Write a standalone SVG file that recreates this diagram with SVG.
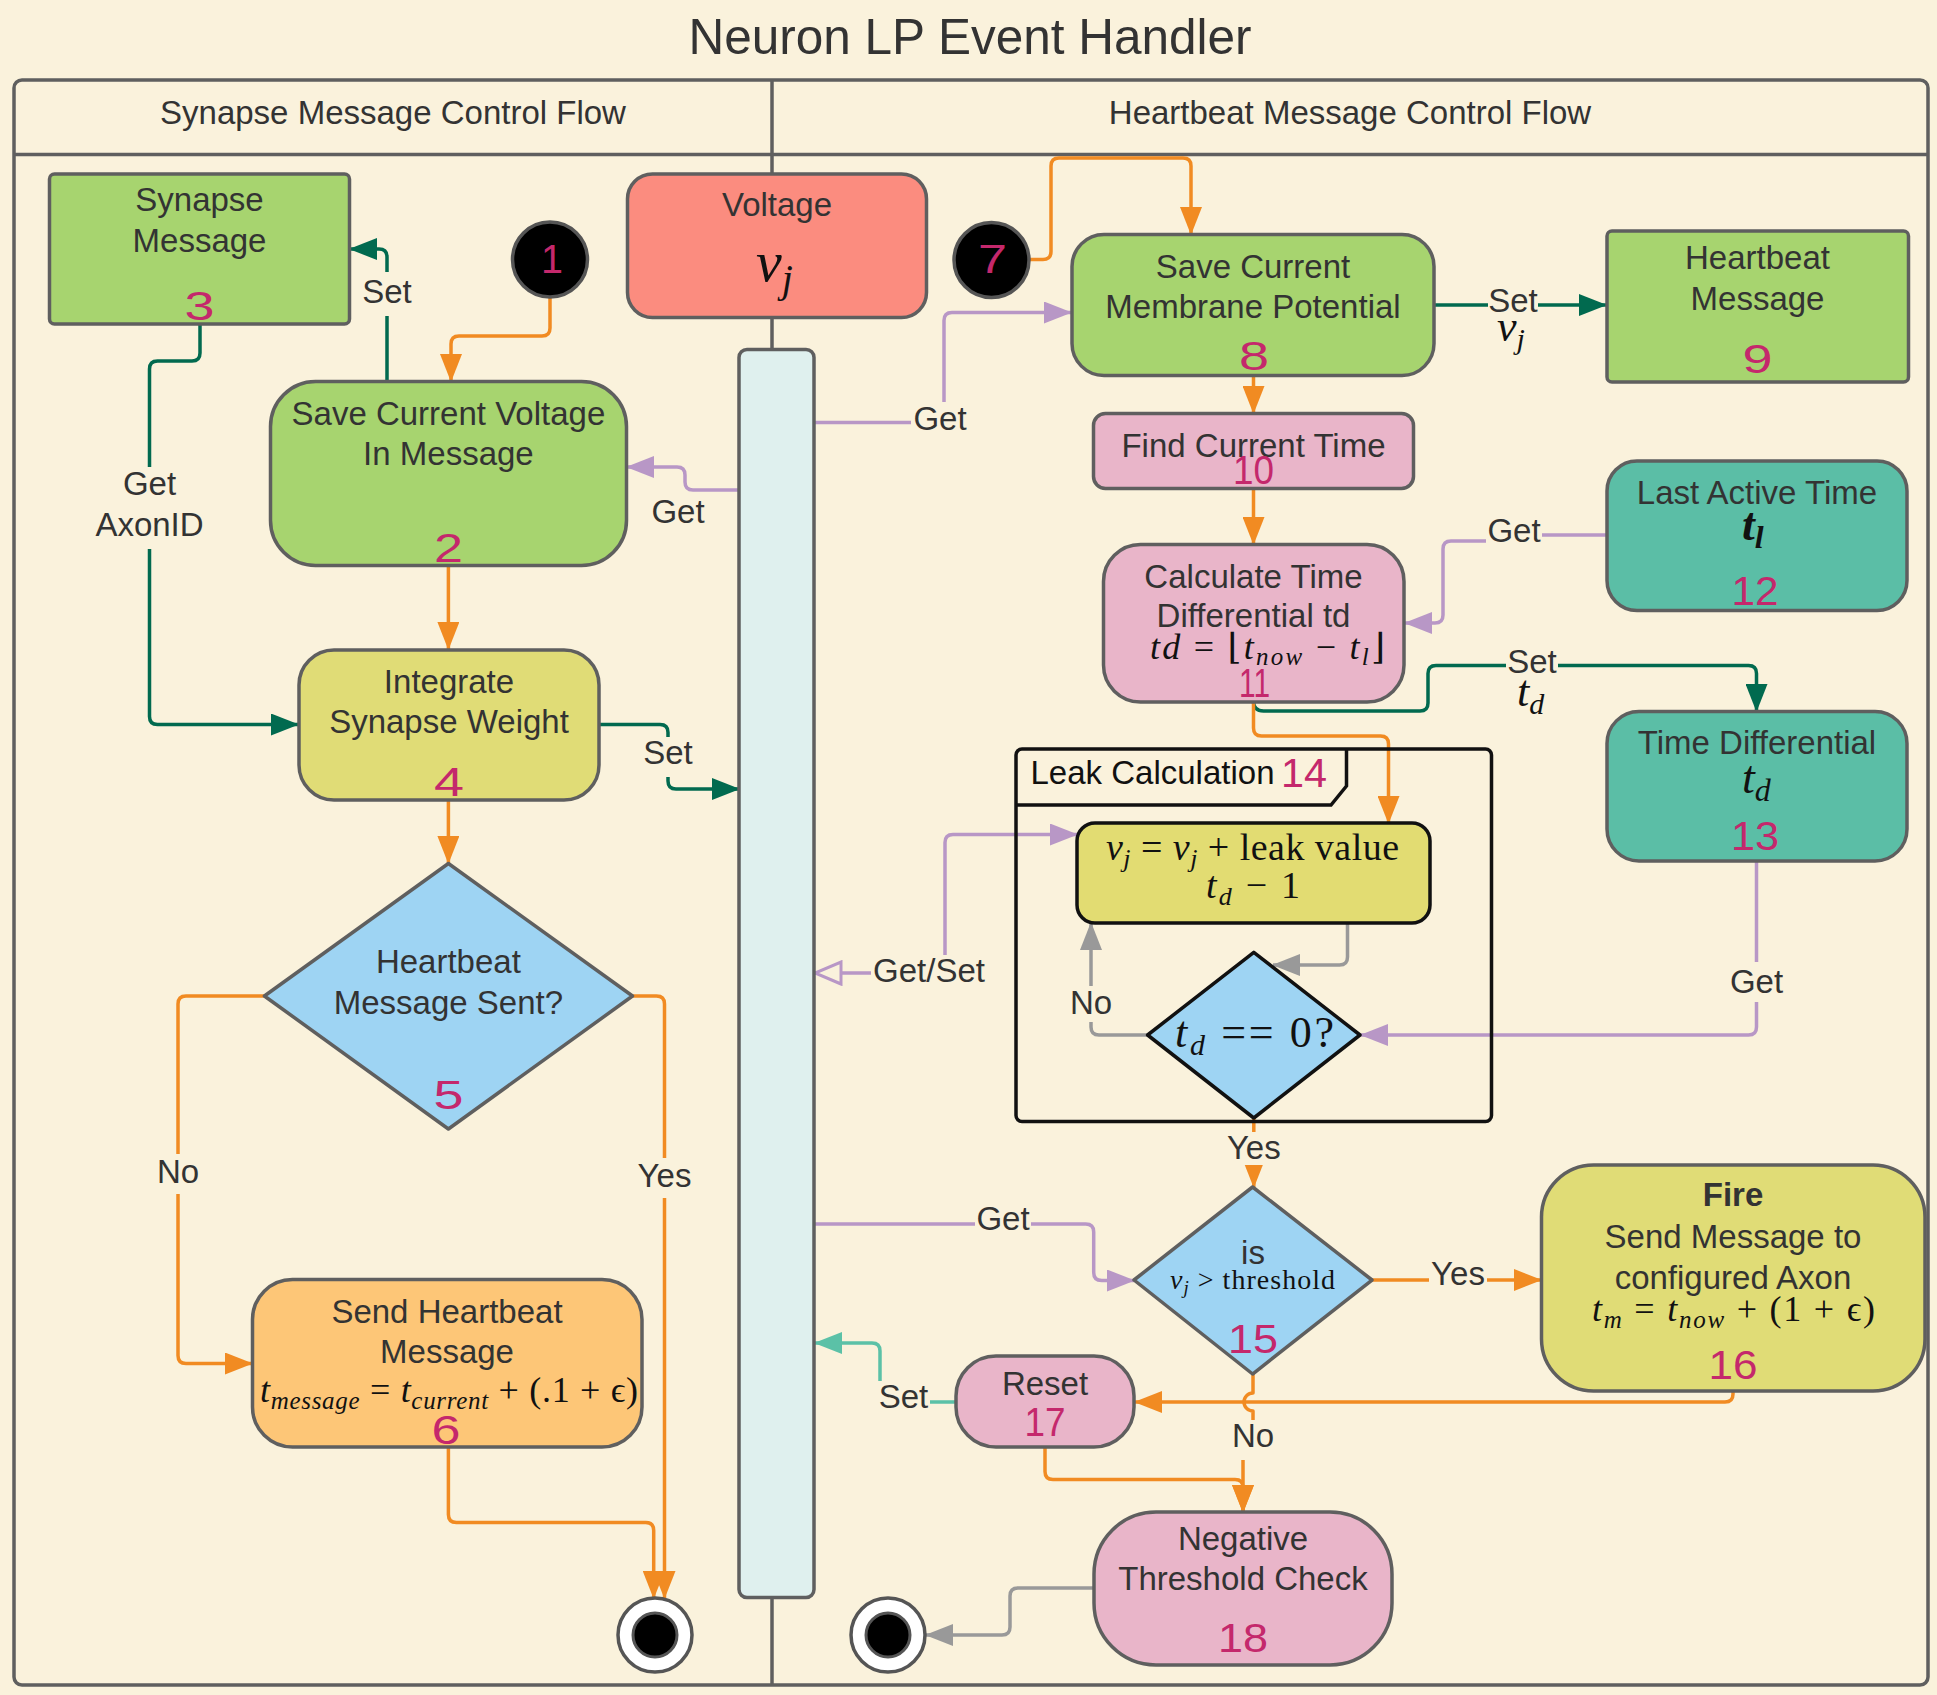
<svg xmlns="http://www.w3.org/2000/svg" width="1937" height="1695" viewBox="0 0 1937 1695">
<style>
.t{font-family:"Liberation Sans",Arial,sans-serif;font-size:33px;fill:#333;text-anchor:middle}
.n{font-family:"Liberation Sans",Arial,sans-serif;font-size:40px;fill:#c4286c;text-anchor:middle}
.m{font-family:"Liberation Serif","DejaVu Serif",serif;fill:#111}
.i{font-style:italic}
.node{stroke:#5f5f5f;stroke-width:3.5}
.blk{stroke:#111;stroke-width:3.5}
.c{fill:none;stroke-width:3.5;stroke-linejoin:round}
.or{stroke:#f18b22}.gr{stroke:#016a4f}.pu{stroke:#b897c6}.te{stroke:#5bc1a7}.gy{stroke:#999}
.bg{fill:#faf2dc}
.green{fill:#a7d46f}.pink{fill:#e9b5c9}.teal{fill:#5bbea6}.yel{fill:#e0dc76}.blue{fill:#9ed4f3}
</style>
<defs>
<marker id="aO" viewBox="0 0 28 22" refX="27" refY="11" markerWidth="28" markerHeight="22" markerUnits="userSpaceOnUse" orient="auto"><path d="M0,0 L28,11 L0,22 Z" fill="#f18b22"/></marker>
<marker id="aG" viewBox="0 0 28 22" refX="27" refY="11" markerWidth="28" markerHeight="22" markerUnits="userSpaceOnUse" orient="auto"><path d="M0,0 L28,11 L0,22 Z" fill="#016a4f"/></marker>
<marker id="aP" viewBox="0 0 28 22" refX="27" refY="11" markerWidth="28" markerHeight="22" markerUnits="userSpaceOnUse" orient="auto"><path d="M0,0 L28,11 L0,22 Z" fill="#b897c6"/></marker>
<marker id="aPs" viewBox="0 0 28 22" refX="27" refY="11" markerWidth="28" markerHeight="22" markerUnits="userSpaceOnUse" orient="auto-start-reverse"><path d="M0,0 L28,11 L0,22 Z" fill="#b897c6"/></marker>
<marker id="aT" viewBox="0 0 28 22" refX="27" refY="11" markerWidth="28" markerHeight="22" markerUnits="userSpaceOnUse" orient="auto"><path d="M0,0 L28,11 L0,22 Z" fill="#5bc1a7"/></marker>
<marker id="aY" viewBox="0 0 28 22" refX="27" refY="11" markerWidth="28" markerHeight="22" markerUnits="userSpaceOnUse" orient="auto"><path d="M0,0 L28,11 L0,22 Z" fill="#999"/></marker>
<marker id="aPo" viewBox="-2 -2 30 26" refX="26" refY="11" markerWidth="30" markerHeight="26" markerUnits="userSpaceOnUse" orient="auto"><path d="M0,0 L26,11 L0,22 Z" fill="#faf2dc" stroke="#b897c6" stroke-width="3"/></marker>
</defs>

<rect x="0" y="0" width="1937" height="1695" fill="#faf2dc"/>
<text x="970" y="54" font-family="Liberation Sans, Arial, sans-serif" font-size="49.5" fill="#333" text-anchor="middle">Neuron LP Event Handler</text>

<g id="lanes">
<rect x="14" y="80" width="1914" height="1605" rx="8" fill="none" stroke="#5f5f5f" stroke-width="3.5"/>
<line x1="14" y1="154.5" x2="1928" y2="154.5" stroke="#5f5f5f" stroke-width="3.5"/>
<line x1="772" y1="80" x2="772" y2="1685" stroke="#5f5f5f" stroke-width="3.5"/>
<text class="t" x="393" y="124">Synapse Message Control Flow</text>
<text class="t" x="1350" y="124">Heartbeat Message Control Flow</text>
</g>

<g id="connectors">
<path class="c or" d="M550,297 V328 Q550,336 542,336 H459 Q451,336 451,344 V381" marker-end="url(#aO)"/>
<path class="c gr" d="M387,381 V257 Q387,249 379,249 H350" marker-end="url(#aG)"/>
<path class="c gr" d="M200,324 V353 Q200,361 192,361 H157.5 Q149.5,361 149.5,369 V716.5 Q149.5,724.5 157.5,724.5 H298" marker-end="url(#aG)"/>
<path class="c pu" d="M739,490 H693 Q685,490 685,482 V475 Q685,467 677,467 H627" marker-end="url(#aP)"/>
<path class="c or" d="M448.4,566 V649" marker-end="url(#aO)"/>
<path class="c gr" d="M599,724.5 H660 Q668,724.5 668,732.5 V781 Q668,789 676,789 H739" marker-end="url(#aG)"/>
<path class="c or" d="M448.4,800 V863" marker-end="url(#aO)"/>
<path class="c or" d="M264.5,996 H186 Q178,996 178,1004 V1355.5 Q178,1363.5 186,1363.5 H252" marker-end="url(#aO)"/>
<path class="c or" d="M632.5,996 H656.5 Q664.5,996 664.5,1004 V1598" marker-end="url(#aO)"/>
<path class="c or" d="M448.4,1447 V1514.5 Q448.4,1522.5 456.4,1522.5 H645.7 Q653.7,1522.5 653.7,1530.5 V1598" marker-end="url(#aO)"/>
<path class="c or" d="M1029,259.5 H1043 Q1051,259.5 1051,251.5 V166 Q1051,158 1059,158 H1183 Q1191,158 1191,166 V234" marker-end="url(#aO)"/>
<path class="c pu" d="M814,422.5 H936 Q944,422.5 944,414.5 V320.5 Q944,312.5 952,312.5 H1071" marker-end="url(#aP)"/>
<path class="c gr" d="M1434,305 H1606" marker-end="url(#aG)"/>
<path class="c or" d="M1253.5,376 V413" marker-end="url(#aO)"/>
<path class="c or" d="M1253.5,489 V544" marker-end="url(#aO)"/>
<path class="c pu" d="M1607,535 H1514 V541 H1451 Q1443,541 1443,549 V615 Q1443,623 1435,623 H1405" marker-end="url(#aP)"/>
<path class="c gr" d="M1253.5,701 Q1253.5,711 1263.5,711 H1420 Q1428,711 1428,703 V673.5 Q1428,665.5 1436,665.5 H1748.5 Q1756.5,665.5 1756.5,673.5 V711" marker-end="url(#aG)"/>
<path class="c or" d="M1253.5,702 V728 Q1253.5,736 1261.5,736 H1380.5 Q1388.5,736 1388.5,744 V823" marker-end="url(#aO)"/>
<path class="c pu" d="M1077,834.5 H953 Q945,834.5 945,842.5 V965 Q945,973 937,973 H815" marker-start="url(#aPs)" marker-end="url(#aPo)"/>
<path class="c gy" d="M1347.5,923 V957 Q1347.5,965 1339.5,965 H1273" marker-end="url(#aY)"/>
<path class="c gy" d="M1148,1035 H1099 Q1091,1035 1091,1027 V923" marker-end="url(#aY)"/>
<path class="c pu" d="M1756.5,861 V1027 Q1756.5,1035 1748.5,1035 H1361" marker-end="url(#aP)"/>
<path class="c or" d="M1253.8,1118 V1187" marker-end="url(#aO)"/>
<path class="c pu" d="M814,1224 H1085.7 Q1093.7,1224 1093.7,1232 V1272.5 Q1093.7,1280.5 1101.7,1280.5 H1134" marker-end="url(#aP)"/>
<path class="c or" d="M1371,1280 H1541" marker-end="url(#aO)"/>
<path class="c or" d="M1733,1391 V1394 Q1733,1402 1725,1402 H1135" marker-end="url(#aO)"/>
<path class="c or" d="M1253,1374 V1393 A9,9 0 0 0 1253,1411 V1448 H1243 V1512" marker-end="url(#aO)"/>
<path class="c or" d="M1045,1447 V1471.5 Q1045,1479.5 1053,1479.5 H1235 Q1243,1479.5 1243,1487.5 V1512" marker-end="url(#aO)"/>
<path class="c te" d="M956,1402 H888 Q880,1402 880,1394 V1351 Q880,1343 872,1343 H815" marker-end="url(#aT)"/>
<path class="c gy" d="M1094,1588 H1018 Q1010,1588 1010,1596 V1627 Q1010,1635 1002,1635 H926" marker-end="url(#aY)"/>

<rect class="bg" x="359" y="272" width="56" height="44"/><text class="t" x="387" y="303">Set</text>
<rect class="bg" x="92" y="467" width="115" height="82"/><text class="t" x="149.5" y="495">Get</text><text class="t" x="149.5" y="535.5">AxonID</text>
<text class="t" x="678" y="523">Get</text>
<rect class="bg" x="641" y="737" width="54" height="40"/><text class="t" x="668" y="764">Set</text>
<rect class="bg" x="155" y="1154" width="46" height="40"/><text class="t" x="178" y="1183">No</text>
<rect class="bg" x="634" y="1158" width="61" height="40"/><text class="t" x="664.5" y="1186.5">Yes</text>
<rect class="bg" x="911" y="402" width="58" height="38"/><text class="t" x="940" y="429.5">Get</text>
<rect class="bg" x="1488" y="287" width="50" height="30"/><text class="t" x="1513" y="312">Set</text>
<rect class="bg" x="1486" y="516" width="56" height="34"/><text class="t" x="1514" y="542">Get</text>
<rect class="bg" x="1506" y="647" width="52" height="32"/><text class="t" x="1532" y="673">Set</text>
<rect class="bg" x="871" y="955" width="116" height="36"/><text class="t" x="929" y="982">Get/Set</text>
<rect class="bg" x="1069" y="986" width="44" height="36"/><text class="t" x="1091" y="1014">No</text>
<rect class="bg" x="1728" y="962" width="57" height="40"/><text class="t" x="1756.5" y="993">Get</text>
<rect class="bg" x="1223" y="1132" width="61" height="33"/><text class="t" x="1253.8" y="1159">Yes</text>
<rect class="bg" x="975" y="1204" width="56" height="34"/><text class="t" x="1003" y="1230">Get</text>
<rect class="bg" x="1429" y="1262" width="58" height="32"/><text class="t" x="1458" y="1285">Yes</text>
<rect class="bg" x="1230" y="1420" width="46" height="40"/><text class="t" x="1253" y="1447">No</text>
<rect class="bg" x="877" y="1381" width="53" height="34"/><text class="t" x="903.5" y="1407.5">Set</text>
<text class="m" x="1497" y="341" font-size="44"><tspan class="i">v</tspan><tspan class="i" font-size="30" dy="8">j</tspan></text>
<text class="m" x="1517" y="706" font-size="44"><tspan class="i">t</tspan><tspan class="i" font-size="30" dy="8">d</tspan></text>
</g>

<g id="n3">
<rect class="node green" x="49.5" y="174" width="300" height="150" rx="5"/>
<text class="t" x="199.5" y="211">Synapse</text>
<text class="t" x="199.5" y="251.5">Message</text>
<text class="n" x="199.5" y="319.5" textLength="30" lengthAdjust="spacingAndGlyphs">3</text>
</g>
<g id="n1">
<circle cx="550" cy="259.5" r="37.5" fill="#000" stroke="#555" stroke-width="3.5"/>
<text class="n" x="552" y="272.5" textLength="22" lengthAdjust="spacingAndGlyphs">1</text>
</g>
<g id="n2">
<rect class="node green" x="270.5" y="381.5" width="356" height="184" rx="45"/>
<text class="t" x="448.4" y="424.5">Save Current Voltage</text>
<text class="t" x="448.4" y="465">In Message</text>
<text class="n" x="448.4" y="562" textLength="29" lengthAdjust="spacingAndGlyphs">2</text>
</g>
<g id="voltage">
<rect class="node" fill="#fb8c7f" x="627.5" y="174" width="299" height="143.5" rx="25"/>
<text class="t" x="777" y="216">Voltage</text>
<text class="m" x="756" y="281" font-size="58"><tspan class="i">v</tspan><tspan class="i" font-size="40" dy="11">j</tspan></text>
</g>
<g id="bar">
<rect class="node" fill="#dff0ee" stroke-width="3" x="739" y="349.5" width="75" height="1248" rx="8"/>
</g>
<g id="n4">
<rect class="node yel" x="299" y="650" width="300" height="150" rx="35"/>
<text class="t" x="449" y="692.5">Integrate</text>
<text class="t" x="449" y="733">Synapse Weight</text>
<text class="n" x="449" y="796" textLength="30" lengthAdjust="spacingAndGlyphs">4</text>
</g>
<g id="n5">
<polygon class="node blue" stroke-linejoin="round" points="448.4,863.5 632.5,996 448.4,1129 264.4,996"/>
<text class="t" x="448.4" y="973">Heartbeat</text>
<text class="t" x="448.4" y="1014">Message Sent?</text>
<text class="n" x="448.4" y="1109" textLength="30" lengthAdjust="spacingAndGlyphs">5</text>
</g>
<g id="n6">
<rect class="node" fill="#fdc677" x="252.5" y="1279.5" width="389.5" height="167.5" rx="40"/>
<text class="t" x="447" y="1322.5">Send Heartbeat</text>
<text class="t" x="447" y="1363">Message</text>
<text class="m" x="260" y="1402" font-size="36" textLength="378" lengthAdjust="spacing"><tspan class="i">t</tspan><tspan class="i" font-size="25" dy="7">message</tspan><tspan dy="-7"> = </tspan><tspan class="i">t</tspan><tspan class="i" font-size="25" dy="7">current</tspan><tspan dy="-7"> + (.1 + ϵ)</tspan></text>
<text class="n" x="446" y="1444" textLength="29" lengthAdjust="spacingAndGlyphs">6</text>
</g>
<g id="end1">
<circle cx="655" cy="1635" r="37" fill="#fff" stroke="#555" stroke-width="3.5"/>
<circle cx="655" cy="1635" r="22" fill="#000" stroke="#555" stroke-width="3"/>
</g>
<g id="n7">
<circle cx="991.5" cy="260" r="37.5" fill="#000" stroke="#555" stroke-width="3.5"/>
<text class="n" x="992.5" y="273" textLength="29" lengthAdjust="spacingAndGlyphs">7</text>
</g>
<g id="n8">
<rect class="node green" x="1072" y="234.5" width="362" height="141" rx="32"/>
<text class="t" x="1253" y="277.5">Save Current</text>
<text class="t" x="1253" y="318">Membrane Potential</text>
<text class="n" x="1254" y="369.5" textLength="30" lengthAdjust="spacingAndGlyphs">8</text>
</g>
<g id="n9">
<rect class="node green" x="1607" y="231" width="301.5" height="151" rx="5"/>
<text class="t" x="1757.5" y="269">Heartbeat</text>
<text class="t" x="1757.5" y="309.5">Message</text>
<text class="n" x="1757.5" y="373" textLength="30" lengthAdjust="spacingAndGlyphs">9</text>
</g>
<g id="n10">
<rect class="node pink" x="1093.5" y="413.5" width="320" height="75" rx="12"/>
<text class="t" x="1253.5" y="456.5">Find Current Time</text>
<text class="n" x="1253.5" y="484" font-size="32" textLength="41" lengthAdjust="spacingAndGlyphs">10</text>
</g>
<g id="n11">
<rect class="node pink" x="1103.5" y="544.5" width="300.5" height="157.5" rx="37"/>
<text class="t" x="1253.5" y="587.5">Calculate Time</text>
<text class="t" x="1253.5" y="627">Differential td</text>
<text class="m" x="1150" y="658.6" font-size="36" textLength="235" lengthAdjust="spacing"><tspan class="i">td</tspan><tspan> = ⌊</tspan><tspan class="i">t</tspan><tspan class="i" font-size="25" dy="6">now</tspan><tspan dy="-6"> − </tspan><tspan class="i">t</tspan><tspan class="i" font-size="25" dy="6">l</tspan><tspan dy="-6">⌋</tspan></text>
<text class="n" x="1254.5" y="697" textLength="31" lengthAdjust="spacingAndGlyphs">11</text>
</g>
<g id="n12">
<rect class="node teal" x="1607" y="461" width="300" height="149.5" rx="30"/>
<text class="t" x="1757" y="503.5">Last Active Time</text>
<text class="m" x="1742" y="540" font-size="46" font-weight="bold"><tspan class="i">t</tspan><tspan class="i" font-size="32" dy="8">l</tspan></text>
<text class="n" x="1755" y="605" textLength="47" lengthAdjust="spacingAndGlyphs">12</text>
</g>
<g id="n13">
<rect class="node teal" x="1607" y="711.5" width="300" height="149.5" rx="32"/>
<text class="t" x="1757" y="754">Time Differential</text>
<text class="m" x="1742" y="793" font-size="46"><tspan class="i">t</tspan><tspan class="i" font-size="32" dy="8">d</tspan></text>
<text class="n" x="1755" y="850" textLength="48" lengthAdjust="spacingAndGlyphs">13</text>
</g>
<g id="n14">
<rect x="1016" y="749" width="475.5" height="372.5" rx="6" fill="none" class="blk"/>
<polyline points="1016,805 1331,805 1346.5,786 1346.5,749" fill="none" class="blk"/>
<text x="1030.5" y="784" font-family="Liberation Sans, Arial, sans-serif" font-size="33" fill="#111">Leak Calculation</text>
<text class="n" x="1304" y="787" textLength="46" lengthAdjust="spacingAndGlyphs">14</text>
<rect class="blk" fill="#e2dc72" x="1077" y="823" width="353" height="100" rx="18"/>
<text class="m" x="1106" y="860" font-size="38" textLength="293" lengthAdjust="spacing"><tspan class="i">v</tspan><tspan class="i" font-size="26" dy="7">j</tspan><tspan dy="-7"> = </tspan><tspan class="i">v</tspan><tspan class="i" font-size="26" dy="7">j</tspan><tspan dy="-7"> + leak value</tspan></text>
<text class="m" x="1206" y="898" font-size="38" textLength="94" lengthAdjust="spacing"><tspan class="i">t</tspan><tspan class="i" font-size="26" dy="7">d</tspan><tspan dy="-7"> − 1</tspan></text>
<polygon class="blk blue" stroke-linejoin="round" points="1253.8,952.4 1360,1035 1253.8,1118 1147.6,1035"/>
<text class="m" x="1175" y="1047" font-size="44" textLength="159" lengthAdjust="spacing"><tspan class="i">t</tspan><tspan class="i" font-size="30" dy="8">d</tspan><tspan dy="-8"> == 0?</tspan></text>
</g>
<g id="n15">
<polygon class="node blue" stroke-linejoin="round" points="1252.6,1187 1372,1280 1252.6,1374 1134,1280"/>
<text class="t" x="1253" y="1264">is</text>
<text class="m" x="1170" y="1288.6" font-size="28" textLength="165" lengthAdjust="spacing"><tspan class="i">v</tspan><tspan class="i" font-size="19" dy="5">j</tspan><tspan dy="-5"> &gt; threshold</tspan></text>
<text class="n" x="1253" y="1353" textLength="50" lengthAdjust="spacingAndGlyphs">15</text>
</g>
<g id="n16">
<rect class="node yel" x="1541.5" y="1165" width="383.5" height="226" rx="52"/>
<text class="t" x="1733" y="1206.4" font-weight="bold">Fire</text>
<text class="t" x="1733" y="1248">Send Message to</text>
<text class="t" x="1733" y="1289">configured Axon</text>
<text class="m" x="1592" y="1321" font-size="36" textLength="283" lengthAdjust="spacing"><tspan class="i">t</tspan><tspan class="i" font-size="25" dy="7">m</tspan><tspan dy="-7"> = </tspan><tspan class="i">t</tspan><tspan class="i" font-size="25" dy="7">now</tspan><tspan dy="-7"> + (1 + ϵ)</tspan></text>
<text class="n" x="1733" y="1379" textLength="49" lengthAdjust="spacingAndGlyphs">16</text>
</g>
<g id="n17">
<rect class="node pink" x="956" y="1356" width="178" height="91" rx="40"/>
<text class="t" x="1045" y="1394.5">Reset</text>
<text class="n" x="1045" y="1436" textLength="41" lengthAdjust="spacingAndGlyphs">17</text>
</g>
<g id="n18">
<rect class="node pink" x="1094" y="1512" width="298" height="153" rx="62"/>
<text class="t" x="1243" y="1550">Negative</text>
<text class="t" x="1243" y="1590">Threshold Check</text>
<text class="n" x="1243" y="1652" textLength="50" lengthAdjust="spacingAndGlyphs">18</text>
</g>
<g id="end2">
<circle cx="888" cy="1635" r="37" fill="#fff" stroke="#555" stroke-width="3.5"/>
<circle cx="888" cy="1635" r="22" fill="#000" stroke="#555" stroke-width="3"/>
</g>
</svg>
